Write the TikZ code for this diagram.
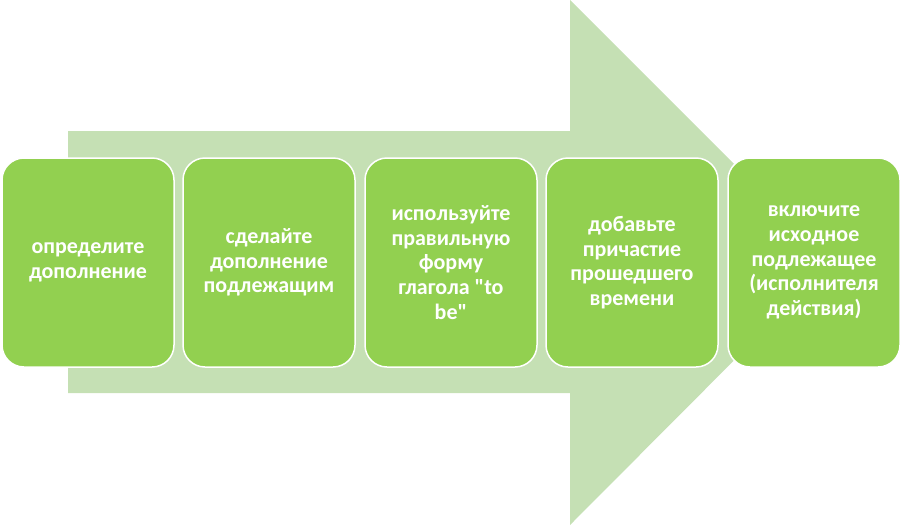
\documentclass[tikz,border=0pt]{standalone}
\usepackage{fontspec}
\setmainfont{Carlito}[Ligatures=TeXOff]
\definecolor{arrowgreen}{HTML}{C5E0B4}
\definecolor{boxgreen}{HTML}{92D050}
\tikzset{
  stepbox/.style={draw=white, line width=1.5pt, fill=boxgreen, rounded corners=22pt,
    minimum width=172pt, minimum height=209pt, inner sep=0pt, text=white,
    font=\fontsize{22}{24.6}\selectfont\bfseries, align=center},
}
\begin{document}
\begin{tikzpicture}[x=1pt,y=-1pt]
\useasboundingbox (0,0) rectangle (902,525);
\fill[arrowgreen] (68,131) -- (570,131) -- (570,0) -- (832,262) -- (570,525) -- (570,393) -- (68,393) -- cycle;
\node[stepbox] (b1) at (88,262.5) {определите\\дополнение};
\node[stepbox] (b2) at (269,262.5) {сделайте\\дополнение\\подлежащим};
\node[stepbox] (b3) at (451,262.5) {используйте\\правильную\\форму\\глагола "to\\be"};
\node[stepbox] (b4) at (632,262.5) {добавьте\\причастие\\прошедшего\\времени};
\node[stepbox] (b5) at (814,262.5) {включите\\исходное\\подлежащее\\(исполнителя\\действия)};
\end{tikzpicture}
\end{document}
